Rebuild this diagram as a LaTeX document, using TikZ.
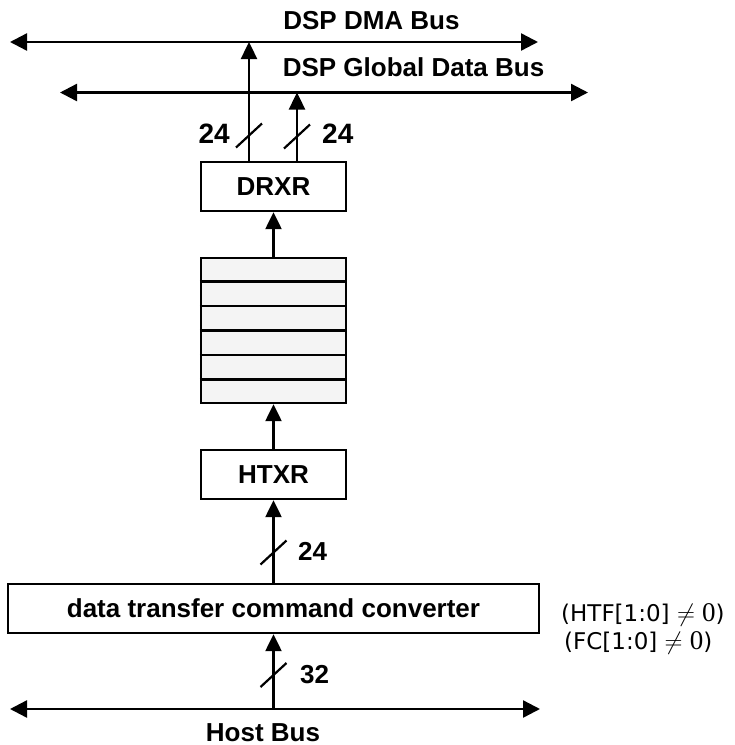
\documentclass[tikz,border=0pt]{standalone}
\usepackage{fontspec}
\setmainfont{Liberation Sans}
\newfontfamily\condfont{DejaVu Sans}
\newfontfamily\zerofont{Liberation Serif}
\usetikzlibrary{arrows.meta,calc}
\definecolor{stackgray}{HTML}{F4F4F4}
\newcommand{\bigzero}{{\zerofont\fontsize{27}{27}\selectfont 0}}
\begin{document}
\begin{tikzpicture}[x=1pt,y=-1pt,
  wire/.style={line width=2.4pt},
  bus/.style={wire,{Triangle[length=17pt,width=17pt]}-{Triangle[length=17pt,width=17pt]}},
  flow/.style={wire,-{Triangle[length=17pt,width=16pt]}},
  reg/.style={draw,line width=2.4pt,minimum width=145pt,minimum height=49pt,inner sep=0pt,
    font=\fontsize{26}{30}\selectfont\bfseries},
  lbl/.style={inner sep=0pt,font=\fontsize{26}{30}\selectfont\bfseries},
  biglbl/.style={inner sep=0pt,font=\fontsize{28}{32}\selectfont\bfseries},
  cond/.style={inner sep=0pt,anchor=base west,font=\condfont\fontsize{23}{27}\selectfont},
  slash/.style={line width=2.2pt}]
\useasboundingbox (0,0) rectangle (735,745);

% buses
\coordinate (dmaL) at (10,42);   \coordinate (dmaR) at (538,42);
\coordinate (gdbL) at (60,92.5); \coordinate (gdbR) at (588,92.5);
\coordinate (hostL) at (10,709); \coordinate (hostR) at (540,709);
\draw[bus] (dmaL) -- (dmaR);
\draw[bus] (gdbL) -- (gdbR);
\draw[bus] (hostL) -- (hostR);

\node[lbl,anchor=base] (dmaT) at (371.5,29) {DSP DMA Bus};
\node[lbl,anchor=base] (gdbT) at (413.5,76) {DSP Global Data Bus};
\node[lbl,anchor=base] (hostT) at (263,741) {Host Bus};

% registers
\node[reg] (drxr) at (273.5,186.5) {DRXR};
\node[draw,line width=2.4pt,fill=stackgray,minimum width=145pt,minimum height=145pt,inner sep=0pt]
  (fifo) at (273.5,330.5) {};
\foreach \i in {1,...,5}
  \draw[wire] ($(fifo.north west)!\i/6!(fifo.south west)$) -- ($(fifo.north east)!\i/6!(fifo.south east)$);
\node[reg] (htxr) at (273.5,474.5) {HTXR};
\node[reg,minimum width=531pt] (conv) at (273.5,608.5) {data transfer command converter};

% connections
\coordinate (dmaIn) at (249,42);
\coordinate (gdbIn) at (297,92.5);
\coordinate (hostTap) at (273.5,709);
\draw[flow] (drxr.north -| dmaIn) -- (dmaIn);
\draw[flow] (drxr.north -| gdbIn) -- (gdbIn);
\draw[flow] (fifo.north) -- (drxr.south);
\draw[flow] (htxr.north) -- (fifo.south);
\draw[flow] (conv.north) -- (htxr.south);
\draw[flow] (hostTap) -- (conv.south);

% width slashes
\coordinate (sl1) at (249,135.5);
\coordinate (sl2) at (297,136.5);
\coordinate (sl3) at (273.5,552.5);
\coordinate (sl4) at (273.5,675);
\foreach \s in {sl1,sl2,sl3,sl4}
  \draw[slash] ([shift={(-13,12)}]\s) -- ([shift={(13,-12)}]\s);

\node[biglbl,anchor=base east] (w1) at (230,143) {24};
\node[biglbl,anchor=base west] (w2) at (322,143) {24};
\node[lbl,anchor=base west] (w3) at (298,560) {24};
\node[lbl,anchor=base west] (w4) at (300,683) {32};

% conditions
\node[cond] (c1) at (561,621) {(HTF[1:0] $\neq$ \bigzero)};
\node[cond] (c2) at (564,649) {(FC[1:0] $\neq$ \bigzero)};
\end{tikzpicture}
\end{document}
